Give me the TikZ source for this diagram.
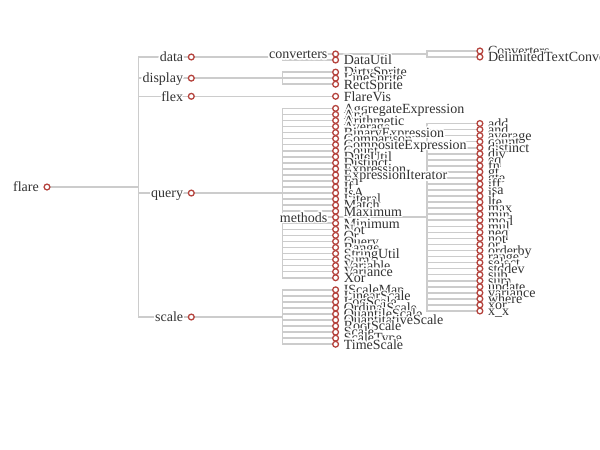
\documentclass[tikz,border=0pt]{standalone}
\usepackage{fontspec}
\setmainfont{Liberation Serif}
\usepackage{contour}
\usepackage{tikz}
\usetikzlibrary{backgrounds}
\definecolor{linkgray}{HTML}{CCCCCC}
\definecolor{dotred}{HTML}{B5443E}
\definecolor{textgray}{HTML}{333333}
\contourlength{1.6pt}

% a node whose label sits on the right (leaf) or on the left (branch)
\newcommand{\leafnode}[4]{%
  \node[dot] (#1) at (#2,#3) {};
  \node[lbl, anchor=base west] (#1-lbl) at ([shift={(8pt,-4.8pt)}]#1.center) {\contour{white}{#4}};}
\newcommand{\branchnode}[4]{%
  \node[dot] (#1) at (#2,#3) {};
  \node[lbl, anchor=base east] (#1-lbl) at ([shift={(-8pt,-4.8pt)}]#1.center) {\contour{white}{#4}};}
\newcommand{\treelink}[2]{%
  \begin{scope}[on background layer]
    \draw[link] (#2.center) -- ++(-53pt,0) |- (#1.center);
  \end{scope}}

\begin{document}
\begin{tikzpicture}[
  x=144.3pt, y=-6.047pt, shift={(47pt,-57pt)},
  dot/.style={circle, draw=dotred, fill=white, line width=1.3pt,
    minimum size=5.8pt, inner sep=0pt},
  lbl/.style={inner sep=0pt, text=textgray,
    font=\fontsize{14pt}{16pt}\selectfont},
  link/.style={draw=linkgray, line width=1.6pt},
]
\useasboundingbox (-47pt,57pt) rectangle ++(600pt,-450pt);

% root and packages
\branchnode{flare}{0}{21.5}{flare}
\branchnode{data}{1}{0}{data}
\branchnode{display}{1}{3.5}{display}
\branchnode{flex}{1}{6.5}{flex}
\branchnode{query}{1}{22.5}{query}
\branchnode{scale}{1}{43}{scale}
\foreach \kid in {data,display,flex,query,scale} {\treelink{flare}{\kid}}

% second level
\branchnode{converters}{2}{-0.5}{converters}
\leafnode{DataUtil}{2}{0.5}{DataUtil}
\treelink{data}{converters}
\treelink{data}{DataUtil}
\foreach \kid [count=\i from 0] in {DirtySprite,LineSprite,RectSprite}
  {\leafnode{\kid}{2}{2.5+\i}{\kid} \treelink{display}{\kid}}
\leafnode{FlareVis}{2}{6.5}{FlareVis}
\treelink{flex}{FlareVis}
\foreach \kid [count=\i from 0] in {AggregateExpression,And,Arithmetic,Average,
    BinaryExpression,Comparison,CompositeExpression,Count,DateUtil,Distinct,
    Expression,ExpressionIterator,Fn,If,IsA,Literal,Match,Maximum}
  {\leafnode{\kid}{2}{8.5+\i}{\kid} \treelink{query}{\kid}}
\branchnode{methods}{2}{26.5}{methods}
\treelink{query}{methods}
\foreach \kid [count=\i from 0] in {Minimum,Not,Or,Query,Range,StringUtil,Sum,
    Variable,Variance,Xor}
  {\leafnode{\kid}{2}{27.5+\i}{\kid} \treelink{query}{\kid}}
\foreach \kid [count=\i from 0] in {IScaleMap,LinearScale,LogScale,OrdinalScale,
    QuantileScale,QuantitativeScale,RootScale,Scale,ScaleType,TimeScale}
  {\leafnode{\kid}{2}{38.5+\i}{\kid} \treelink{scale}{\kid}}

% third level
\leafnode{Converters}{3}{-1}{Converters}
\leafnode{DelimitedTextConverter}{3}{0}{DelimitedTextConverter}
\treelink{converters}{Converters}
\treelink{converters}{DelimitedTextConverter}
\foreach \kid [count=\i from 0] in {add,and,average,count,distinct,div,eq,fn,gt,
    gte,iff,isa,lt,lte,max,min,mod,mul,neq,not,or,orderby,range,select,stddev,
    sub,sum,update,variance,where,xor}
  {\leafnode{\kid}{3}{11+\i}{\kid} \treelink{methods}{\kid}}
\leafnode{xx}{3}{42}{x\_x}
\treelink{methods}{xx}
\end{tikzpicture}
\end{document}
